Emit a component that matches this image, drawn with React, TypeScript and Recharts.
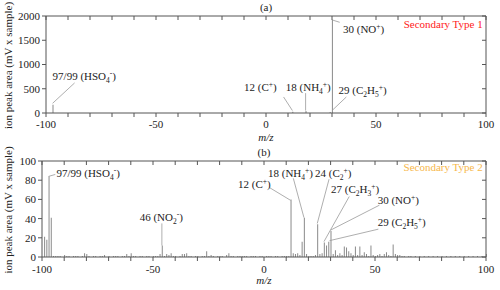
import { Bar, ComposedChart, Line, ReferenceDot, ReferenceLine, XAxis, YAxis } from "recharts";

const xTicks = [-100, -90, -80, -70, -60, -50, -40, -30, -20, -10, 0, 10, 20, 30, 40, 50, 60, 70, 80, 90, 100];
const yTicksA = [0, 500, 1000, 1500, 2000];
const yTicksB = [0, 20, 40, 60, 80, 100];

// panel (a) Secondary Type 1
const mzA = [-97, 12, 18, 29, 30];
const ionA = [170, 25, 40, 20, 1920];

// panel (b) Secondary Type 2
const mzB = [
  -99, -98, -97, -96, -95, -94, -93, -92, -90, -89, -88, -86, -85, -84, -82, -81, -80, -79, -77, -76,
  -74, -73, -72, -70, -68, -67, -66, -64, -63, -62, -61, -60, -59, -58, -56, -55, -53, -52, -50, -49,
  -48, -47, -46, -45, -44, -43, -42, -41, -40, -38, -37, -36, -35, -34, -33, -31, -30, -28, -27, -26,
  -25, -24, -23, -21, -20, -19, -17, -16, -15, -14, -12, -11, -10, -9, -8, -6, -5, -4, -2, -1,
  1, 2, 3, 5, 6, 8, 9, 10, 11, 12, 13, 14, 15, 16, 17, 18, 19, 20, 21, 22,
  23, 24, 25, 26, 27, 28, 29, 30, 31, 32, 33, 34, 35, 36, 37, 38, 39, 40, 41, 42,
  43, 44, 45, 46, 47, 48, 49, 50, 51, 52, 53, 54, 55, 56, 57, 58, 59, 60, 61, 62,
  63, 65, 66, 68, 70, 72, 74, 76, 78, 80, 82, 84, 86, 88, 90, 92, 94, 96, 98, 100,
];
const ionB = [
  21, 18, 84, 41, 1, 1, 1, 1, 2, 1, 1, 1, 1, 1, 1, 4, 3, 1, 1, 1,
  1, 1, 2, 1, 1, 1, 1, 1, 1, 3, 1, 4, 1, 1, 1, 1, 1, 1, 1, 1,
  1, 3, 12, 1, 3, 2, 4, 1, 1, 1, 3, 3, 4, 1, 1, 1, 1, 1, 1, 6,
  1, 2, 1, 1, 1, 1, 2, 4, 1, 1, 1, 1, 1, 1, 1, 1, 1, 1, 1, 1,
  1, 1, 1, 1, 1, 1, 1, 1, 1, 60, 4, 3, 4, 2, 16, 41, 3, 1, 1, 1,
  2, 34, 3, 4, 15, 12, 16, 27, 3, 7, 2, 4, 2, 11, 10, 6, 4, 2, 11, 2,
  11, 2, 5, 3, 1, 12, 2, 1, 2, 3, 1, 3, 5, 2, 1, 13, 3, 2, 2, 1,
  1, 1, 1, 1, 1, 1, 1, 1, 1, 1, 1, 1, 1, 1, 1, 1, 1, 1, 1, 3,
];

const dataA = mzA.map((mz, i) => ({ mz, ion: ionA[i] }));
const dataB = mzB.map((mz, i) => ({ mz, ion: ionB[i] }));

// annotation texts: _x = subscript, ^x = superscript
const notesA = [
  { mz: -97, ion: 760, text: "97/99 (HSO_4^-)" },
  { mz: -10, ion: 540, text: "12 (C^+)" },
  { mz: 9, ion: 540, text: "18 (NH_4^+)" },
  { mz: 33, ion: 480, text: "29 (C_2H_5^+)" },
  { mz: 35, ion: 1730, text: "30 (NO^+)" },
];
const leadersA = [
  [-97, 200, -87, 620],
  [8, 330, 12, 50],
  [18, 410, 18, 50],
  [30, 50, 36.5, 330],
  [30, 1920, 33.5, 1870],
];

const notesB = [
  { mz: -93.5, ion: 87, text: "97/99 (HSO_4^-)" },
  { mz: -56, ion: 42, text: "46 (NO_2^-)" },
  { mz: -11.7, ion: 76, text: "12 (C^+)" },
  { mz: 1.8, ion: 87.5, text: "18 (NH_4^+)" },
  { mz: 23, ion: 87.5, text: "24 (C_2^+)" },
  { mz: 30.2, ion: 70.5, text: "27 (C_2H_3^+)" },
  { mz: 51.2, ion: 59, text: "30 (NO^+)" },
  { mz: 51.2, ion: 36, text: "29 (C_2H_5^+)" },
];
const leadersB = [
  [-97, 84, -94, 86],
  [-46, 35, -46, 12],
  [2.7, 72, 12, 59],
  [13.2, 82, 18, 41],
  [29.3, 81, 24, 35],
  [38.4, 63, 27, 16],
  [52, 54, 30, 28],
  [51.5, 29, 29.5, 17],
];

const FONT = "Liberation Serif";
const AXIS = "#555";
const BAR = "#8a8a8a";
const INK = "#222";

function Rich({ x, y, text, anchor = "start", fill = INK }: any) {
  const parts: { t: string; k: number }[] = [];
  for (let i = 0; i < text.length; i++) {
    const c = text[i];
    if ((c === "_" || c === "^") && i + 1 < text.length) {
      parts.push({ t: text[i + 1], k: c === "_" ? 3 : -4 });
      i++;
    } else if (parts.length && parts[parts.length - 1].k === 0) {
      parts[parts.length - 1].t += c;
    } else {
      parts.push({ t: c, k: 0 });
    }
  }
  let cur = 0;
  return (
    <text x={x} y={y + 4} textAnchor={anchor} fill={fill} fontSize={11} fontFamily={FONT}>
      {parts.map((p, i) => {
        const dy = p.k - cur;
        cur = p.k;
        return (
          <tspan key={i} dy={dy} fontSize={p.k === 0 ? 11 : 7.5}>
            {p.t}
          </tspan>
        );
      })}
    </text>
  );
}

function YTitle({ viewBox }: any) {
  const cx = viewBox.x + 8;
  const cy = viewBox.y + viewBox.height / 2 + 1;
  return (
    <text
      x={cx}
      y={cy}
      transform={`rotate(-90 ${cx} ${cy})`}
      textAnchor="middle"
      dominantBaseline="central"
      fontSize={11}
      fontFamily={FONT}
      fill={INK}
    >
      ion peak area (mV x sample)
    </text>
  );
}

const fmtX = (v: number) => (v % 50 === 0 ? String(v) : "");

function Panel({
  data,
  yTicks,
  yMax,
  notes,
  leaders,
  tag,
  title,
  titleColor,
  titleY,
  yWidth,
  xHeight,
  xTickMargin,
  margin,
}: any) {
  return (
    <ComposedChart width={500} height={145} data={data} margin={margin} barSize={1}>
      <XAxis
        dataKey="mz"
        type="number"
        domain={[-100, 100]}
        ticks={xTicks}
        interval={0}
        tickFormatter={fmtX}
        tick={{ fontSize: 11, fill: INK, fontFamily: FONT }}
        tickSize={4}
        tickMargin={xTickMargin}
        stroke={AXIS}
        height={xHeight}
        label={{ value: "m/z", position: "insideBottom", offset: 0, fontStyle: "italic", fontSize: 11, fill: INK, fontFamily: FONT }}
      />
      <XAxis
        xAxisId="top"
        orientation="top"
        dataKey="mz"
        type="number"
        domain={[-100, 100]}
        ticks={xTicks}
        interval={0}
        tickFormatter={() => ""}
        tickSize={-4}
        stroke={AXIS}
        height={1}
        label={{ value: tag, position: "top", offset: 4, fontSize: 11, fill: INK, fontFamily: FONT }}
      />
      <YAxis
        type="number"
        domain={[0, yMax]}
        ticks={yTicks}
        interval={0}
        tick={{ fontSize: 11, fill: INK, fontFamily: FONT }}
        tickSize={4}
        tickMargin={2}
        stroke={AXIS}
        width={yWidth}
        label={<YTitle />}
      />
      <YAxis
        yAxisId="right"
        orientation="right"
        type="number"
        domain={[0, yMax]}
        ticks={yTicks}
        interval={0}
        tickFormatter={() => ""}
        tickSize={-4}
        stroke={AXIS}
        width={1}
      />
      <Bar dataKey="ion" fill={BAR} isAnimationActive={false} />
      {/* invisible series so the framing top/right axes get a scale */}
      <Line
        xAxisId="top"
        yAxisId="right"
        dataKey="ion"
        stroke="none"
        dot={false}
        activeDot={false}
        isAnimationActive={false}
      />
      {leaders.map((l: number[], i: number) => (
        <ReferenceLine
          key={"l" + i}
          segment={[
            { x: l[0], y: l[1] },
            { x: l[2], y: l[3] },
          ]}
          stroke="#999"
          strokeWidth={0.8}
        />
      ))}
      {notes.map((n: any, i: number) => (
        <ReferenceDot
          key={"n" + i}
          x={n.mz}
          y={n.ion}
          r={0}
          shape={(p: any) => <Rich x={p.cx} y={p.cy} text={n.text} />}
        />
      ))}
      <ReferenceDot
        x={98.5}
        y={titleY}
        r={0}
        shape={(p: any) => <Rich x={p.cx} y={p.cy} text={title} anchor="end" fill={titleColor} />}
      />
    </ComposedChart>
  );
}

export default function App() {
  return (
    <div
      style={{
        position: "absolute",
        left: 0,
        top: 0,
        width: 500,
        height: 290,
        background: "#fff",
        fontFamily: FONT,
      }}
    >
      <div style={{ position: "absolute", left: 0, top: 0 }}>
        <Panel
          data={dataA}
          yTicks={yTicksA}
          yMax={2000}
          notes={notesA}
          leaders={leadersA}
          tag="(a)"
          title="Secondary Type 1"
          titleColor="#ff1a1a"
          titleY={1840}
          yWidth={46}
          xHeight={28}
          xTickMargin={3}
          margin={{ top: 15, right: 13, bottom: 4, left: 0 }}
        />
      </div>
      <div style={{ position: "absolute", left: 0, top: 145 }}>
        <Panel
          data={dataB}
          yTicks={yTicksB}
          yMax={100}
          notes={notesB}
          leaders={leadersB}
          tag="(b)"
          title="Secondary Type 2"
          titleColor="#f7b84b"
          titleY={94}
          yWidth={42}
          xHeight={27}
          xTickMargin={4}
          margin={{ top: 15, right: 13, bottom: 6, left: 0 }}
        />
      </div>
    </div>
  );
}
